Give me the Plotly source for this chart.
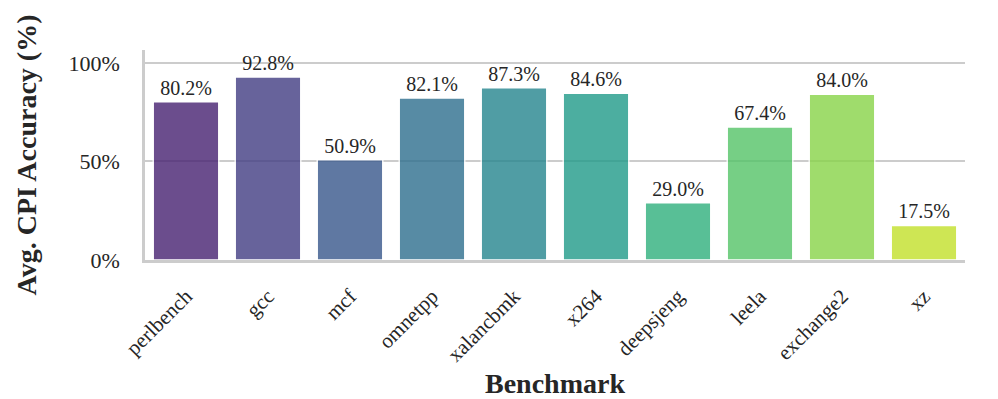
import plotly.graph_objects as go
from plotly.colors import sample_colorscale

benchmarks = ["perlbench", "gcc", "mcf", "omnetpp", "xalancbmk",
              "x264", "deepsjeng", "leela", "exchange2", "xz"]
accuracy = [80.2, 92.8, 50.9, 82.1, 87.3, 84.6, 29.0, 67.4, 84.0, 17.5]
y_ticks = [0, 50, 100]
y_tick_labels = ["0%", "50%", "100%"]

n = len(benchmarks)
colors = sample_colorscale("Viridis", [(i + 1) / (n + 1) for i in range(n)])

FONT = "Liberation Serif"
GRID = "#cccccc"

fig = go.Figure()
fig.add_trace(go.Bar(
    x=benchmarks, y=accuracy,
    marker=dict(color=colors, opacity=0.8, line=dict(color="white", width=1.5)),
    width=0.8,
    text=[f"{v:.1f}%" for v in accuracy],
    textposition="outside",
    textfont=dict(family=FONT, size=20, color="#262626"),
    cliponaxis=False,
))

fig.update_xaxes(
    title=dict(text="<b>Benchmark</b>", font=dict(family=FONT, size=28, color="#262626"), standoff=11),
    tickangle=-45, tickfont=dict(family=FONT, size=21, color="#262626"),
    ticklabelstandoff=13,
    range=[-0.5, n - 0.5],
    showline=True, linecolor=GRID, linewidth=2.5,
    showgrid=False, zeroline=False, automargin=False,
)
fig.update_yaxes(
    title=dict(text="<b>Avg. CPI Accuracy (%)</b>", font=dict(family=FONT, size=28, color="#262626"), standoff=24),
    tickvals=y_ticks, ticktext=y_tick_labels,
    tickfont=dict(family=FONT, size=22, color="#262626"),
    ticklabelstandoff=18,
    range=[0, 106.5],
    showline=True, linecolor=GRID, linewidth=2.5,
    showgrid=True, gridcolor=GRID, gridwidth=2,
    zeroline=False, automargin=False,
)
# the page body adds an 8 px offset, so the figure is 8 px smaller than the window
fig.update_layout(
    width=990, height=391,
    margin=dict(l=137, r=33, t=42, b=139),
    plot_bgcolor="white", paper_bgcolor="white",
    showlegend=False,
)
fig.write_html("out.html")
